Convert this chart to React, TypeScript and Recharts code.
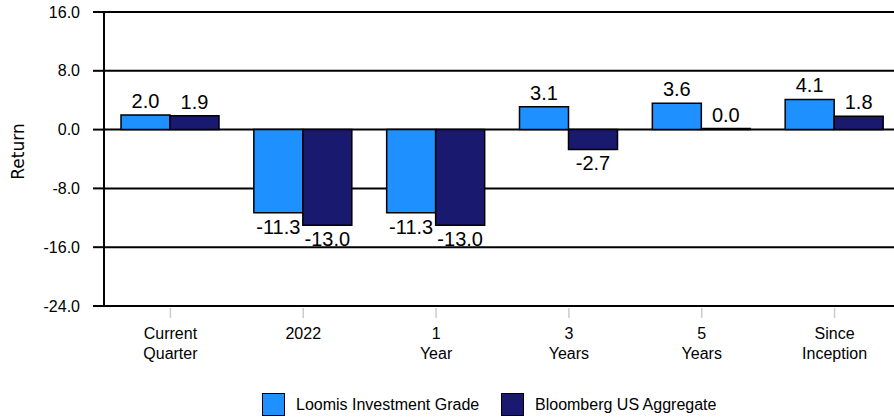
import React from 'react';
import { BarChart, Bar, XAxis, YAxis, CartesianGrid, LabelList } from 'recharts';

const categories = ['Current\nQuarter', '2022', '1\nYear', '3\nYears', '5\nYears', 'Since\nInception'];
const loomisValues = [2.0, -11.3, -11.3, 3.1, 3.6, 4.1];
const bloombergValues = [1.9, -13.0, -13.0, -2.7, 0.0, 1.8];
const yTicks = [-24, -16, -8, 0, 8, 16];
const seriesNames = ['Loomis Investment Grade', 'Bloomberg US Aggregate'];
const seriesColors = ['#1E90FF', '#191970'];
const yLabel = 'Return';

const data = categories.map((c, i) => ({
  category: c,
  loomis: loomisValues[i],
  bloomberg: bloombergValues[i],
}));

const FONT = '"Liberation Sans", Arial, sans-serif';

const XTick = (props: any) => {
  const { x, y, payload } = props;
  const lines = String(payload.value).split('\n');
  return (
    <g>
      <line x1={x} x2={x} y1={y + 2} y2={y + 12} stroke="#cccccc" strokeWidth={1.5} />
      {lines.map((l, i) => (
        <text key={i} x={x} y={y + 33 + i * 20} textAnchor="middle" style={{ fontSize: 16 }} fill="#000" fontFamily={FONT}>
          {l}
        </text>
      ))}
    </g>
  );
};

const YTick = (props: any) => {
  const { x, y, payload } = props;
  return (
    <text x={x} y={y} dy={5.5} textAnchor="end" style={{ fontSize: 16 }} fill="#000" fontFamily={FONT}>
      {Number(payload.value).toFixed(1)}
    </text>
  );
};

const ValueLabel = (props: any) => {
  const { x, y, width, height, value } = props;
  const top = Math.min(y, y + height);
  const bottom = Math.max(y, y + height);
  const cx = x + width / 2;
  const v = Number(value);
  const ty = v < 0 ? bottom + 21 : top - 7;
  return (
    <text x={cx} y={ty} textAnchor="middle" style={{ fontSize: 20 }} fill="#000" fontFamily={FONT}>
      {v.toFixed(1)}
    </text>
  );
};

const YLabel = () => (
  <text
    transform="translate(24,151.5) rotate(-90)"
    textAnchor="middle"
    style={{ fontSize: 17 }}
    fill="#000"
    fontFamily='"DejaVu Sans", sans-serif'
  >
    {yLabel}
  </text>
);

export default function App() {
  return (
    <div style={{ position: 'fixed', left: 0, top: 0, width: 894, height: 417, overflow: 'hidden', background: '#fff' }}>
      <BarChart
        width={902}
        height={417}
        data={data}
        margin={{ top: 12, right: 1, left: 0, bottom: 0 }}
        barCategoryGap={17}
        barGap={0}
      >
        <CartesianGrid vertical={false} stroke="#000" strokeWidth={2} />
        <XAxis
          dataKey="category"
          height={111}
          tickSize={0}
          tickMargin={0}
          tickLine={false}
          axisLine={{ stroke: '#000', strokeWidth: 2 }}
          tick={<XTick />}
          interval={0}
        />
        <YAxis
          width={104}
          domain={[-24, 16]}
          ticks={yTicks}
          type="number"
          allowDataOverflow
          tickSize={11}
          tickMargin={13}
          tick={<YTick />}
          axisLine={{ stroke: '#000', strokeWidth: 2 }}
          tickLine={{ stroke: '#000', strokeWidth: 2 }}
          label={<YLabel />}
        />
        <Bar dataKey="loomis" fill={seriesColors[0]} stroke="#000" strokeWidth={1.5} minPointSize={1} isAnimationActive={false}>
          <LabelList dataKey="loomis" content={<ValueLabel />} />
        </Bar>
        <Bar dataKey="bloomberg" fill={seriesColors[1]} stroke="#000" strokeWidth={1.5} minPointSize={1} isAnimationActive={false}>
          <LabelList dataKey="bloomberg" content={<ValueLabel />} />
        </Bar>
      </BarChart>
      {seriesNames.map((name, i) => (
        <div
          key={name}
          style={{
            position: 'absolute',
            top: 393,
            left: i === 0 ? 262 : 501,
            height: 23,
            display: 'flex',
            alignItems: 'center',
            fontFamily: FONT,
            fontSize: 16,
            color: '#000',
            whiteSpace: 'nowrap',
          }}
        >
          <div
            style={{
              width: 23,
              height: 23,
              boxSizing: 'border-box',
              border: '1.5px solid #000',
              background: seriesColors[i],
              marginRight: 11,
            }}
          />
          <span>{name}</span>
        </div>
      ))}
    </div>
  );
}
